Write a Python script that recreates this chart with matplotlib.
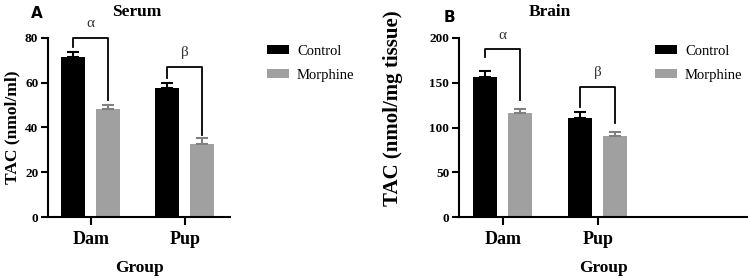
import numpy as np
import matplotlib.pyplot as plt

plt.rcParams['font.family'] = ['Liberation Serif', 'DejaVu Serif']

# data
groups = ['Dam', 'Pup']
series = ['Control', 'Morphine']

serum_mean = {'Control': [71.5, 57.6], 'Morphine': [48.3, 32.6]}
serum_err = {'Control': [2.2, 2.3], 'Morphine': [1.8, 2.7]}

brain_mean = {'Control': [156.4, 110.6], 'Morphine': [116.0, 90.5]}
brain_err = {'Control': [6.6, 6.4], 'Morphine': [4.7, 4.5]}

colors = {'Control': '#000000', 'Morphine': '#a0a0a0'}
err_colors = {'Control': '#000000', 'Morphine': '#808080'}
offsets = {'Control': -0.19, 'Morphine': 0.18}
marks = ['α', 'β']

fig = plt.figure(figsize=(7.48, 2.78), dpi=100)


def panel(rect, xlim, means, errs, ymax, yticks, ylabel, ylabel_size, ylabel_xy,
          bracket_y, leg_top, leg_right, sym_y, title, title_x, letter, letter_xy):
    ax = fig.add_axes(rect)
    x = np.arange(len(groups))
    for s in series:
        ax.bar(x + offsets[s], means[s], width=0.26, color=colors[s], label=s, zorder=2)
        ax.errorbar(x + offsets[s], means[s], yerr=[np.zeros(len(groups)), errs[s]],
                    fmt='none', ecolor=err_colors[s], elinewidth=1.5, capsize=4,
                    capthick=1.5, zorder=3)
    # significance brackets
    for i in range(len(groups)):
        xl = x[i] + offsets['Control']
        xr = x[i] + offsets['Morphine']
        ax.plot([xl, xl, xr, xr], [leg_top[i], bracket_y[i], bracket_y[i], leg_right[i]],
                color='black', lw=1.3, clip_on=False, zorder=4)
        ax.text((xl + xr) / 2, sym_y[i], marks[i], ha='center', va='center',
                fontsize=11, color='#333333')
    ax.set_xlim(*xlim)
    ax.set_ylim(0, ymax)
    ax.set_yticks(yticks)
    ax.set_xticks(x)
    ax.set_xticklabels(groups, fontsize=13, fontweight='bold')
    for lab in ax.get_yticklabels():
        lab.set_fontsize(9.5)
        lab.set_fontweight('bold')
    ax.tick_params(axis='y', length=5, width=1.5, pad=2)
    ax.tick_params(axis='x', length=6, width=1.5, pad=4)
    for sp in ['top', 'right']:
        ax.spines[sp].set_visible(False)
    for sp in ['left', 'bottom']:
        ax.spines[sp].set_linewidth(1.5)
    ax.set_xlabel('Group', fontsize=12.5, fontweight='bold', labelpad=9)
    ax.set_ylabel(ylabel, fontsize=ylabel_size, fontweight='bold')
    ax.yaxis.set_label_coords(*ylabel_xy)
    fig.text(title_x, 1 - 12 / 278, title, ha='center', va='center',
             fontsize=12.5, fontweight='bold')
    fig.text(letter_xy[0], letter_xy[1], letter, ha='center', va='center',
             fontsize=11, fontweight='bold', family='DejaVu Sans')
    return ax


axA = panel([48 / 748, 61 / 278, 182 / 748, 179 / 278], (-0.457, 1.479),
            serum_mean, serum_err, 80, [0, 20, 40, 60, 80], 'TAC (nmol/ml)', 12.5,
            (-28 / 182, 0.5),
            [80, 67], [76, 62], [52.3, 36.6], [86.7, 73.3],
            'Serum', 137 / 748, 'A', (37 / 748, 1 - 14 / 278))
axB = panel([459 / 748, 61 / 278, 289 / 748, 179 / 278], (-0.463, 2.58),
            brain_mean, brain_err, 200, [0, 50, 100, 150, 200], 'TAC (nmol/mg tissue)', 15,
            (-56 / 289, 0.61),
            [187.7, 145.3], [178.8, 123], [130.7, 105], [203, 162],
            'Brain', 550 / 748, 'B', (449 / 748, 1 - 18 / 278))

for ax, lx in [(axA, 267 / 748), (axB, 655 / 748)]:
    h, l = ax.get_legend_handles_labels()
    fig.legend(h, l, loc='upper left', bbox_to_anchor=(lx, 1 - 45 / 278),
               frameon=False, prop={'family': 'Liberation Serif', 'size': 10.5},
               handlelength=1.5, handleheight=0.6,
               handletextpad=0.55, labelspacing=0.75, borderpad=0, borderaxespad=0)

fig.savefig('out.png', dpi=100)
